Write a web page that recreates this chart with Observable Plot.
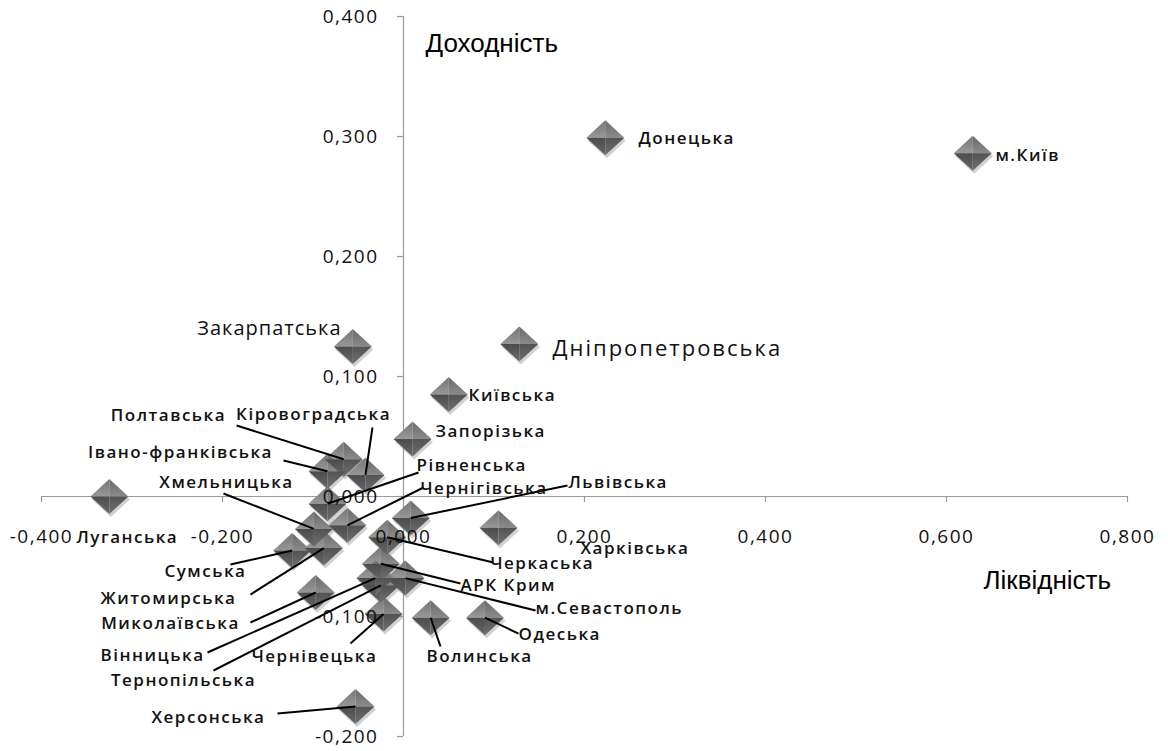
<!DOCTYPE html>
<html>
<head>
<meta charset="utf-8">
<script src="https://cdn.jsdelivr.net/npm/d3@7"></script>
<script src="https://cdn.jsdelivr.net/npm/@observablehq/plot@0.6"></script>
<style>
  html, body { margin: 0; padding: 0; background: #fff; }
  #chart svg { display: block; }
  g[aria-description="tick-labels"] text { letter-spacing: 1.5px; }
  g[aria-description="bold-labels"] text { letter-spacing: 1.5px; }
  g[aria-description="label-zak"] text { letter-spacing: 1px; }
  g[aria-description="label-dnip"] text { letter-spacing: 2px; }
</style>
</head>
<body>
<div id="chart"></div>
<script>
// ---- data ----
const regions = ["Донецька","м.Київ","Закарпатська","Дніпропетровська","Київська","Запорізька","Луганська",
  "Полтавська","Івано-франківська","Кіровоградська","Рівненська","Чернігівська","Хмельницька","Сумська",
  "Житомирська","Львівська","Харківська","Черкаська","АРК Крим","м.Севастополь","Вінницька","Тернопільська",
  "Миколаївська","Чернівецька","Волинська","Одеська","Херсонська"];
const liquidity = [0.223,0.629,-0.056,0.128,0.050,0.010,-0.325,
  -0.066,-0.084,-0.042,-0.084,-0.062,-0.099,-0.123,
  -0.088,0.008,0.105,-0.018,-0.025,0.002,-0.031,-0.025,
  -0.097,-0.022,0.030,0.090,-0.053];
const profitability = [0.299,0.286,0.125,0.127,0.085,0.048,0.000,
  0.031,0.021,0.018,-0.006,-0.024,-0.027,-0.045,
  -0.043,-0.018,-0.026,-0.034,-0.056,-0.068,-0.068,-0.074,
  -0.080,-0.098,-0.101,-0.101,-0.175];

const xTicks = [-0.4,-0.2,0,0.2,0.4,0.6,0.8];
const xTickLabels = ["-0,400","-0,200","0,000","0,200","0,400","0,600","0,800"];
const yTicks = [-0.2,-0.1,0,0.1,0.2,0.3,0.4];
const yTickLabels = ["-0,200","-0,100","0,000","0,100","0,200","0,300","0,400"];
const xTitle = "Ліквідність";
const yTitle = "Доходність";

// label placement (annotation layout, in data units): [textX, textY, anchor, leaderX, leaderY]
const labelLayout = [
  [0.2597,0.2983,"start",null,null],
  [0.6541,0.2842,"start",null,null],
  [-0.0685,0.1400,"end",null,null],
  [0.1646,0.1233,"start",null,null],
  [0.0718,0.0842,"start",null,null],
  [0.0354,0.0542,"start",null,null],
  [-0.3613,-0.0342,"start",null,null],
  [-0.2597,0.0675,"middle",-0.1845,0.0592],
  [-0.2464,0.0367,"middle",-0.1326,0.0300],
  [-0.0994,0.0683,"middle",-0.0343,0.0575],
  [0.0144,0.0258,"start",0.0166,0.0200],
  [0.0188,0.0067,"start",0.0221,0.0075],
  [-0.1956,0.0117,"middle",-0.1989,0.0025],
  [-0.2188,-0.0625,"middle",-0.1912,-0.0567],
  [-0.2597,-0.0850,"middle",-0.1691,-0.0817],
  [0.1823,0.0117,"start",0.1812,0.0092],
  [0.1956,-0.0433,"start",null,null],
  [0.0961,-0.0558,"start",0.0994,-0.0550],
  [0.0630,-0.0742,"start",0.0630,-0.0725],
  [0.1459,-0.0933,"start",0.1459,-0.0950],
  [-0.2773,-0.1325,"middle",-0.2166,-0.1300],
  [-0.2431,-0.1533,"middle",-0.2099,-0.1450],
  [-0.2575,-0.1058,"middle",-0.1691,-0.1050],
  [-0.0983,-0.1333,"middle",-0.0586,-0.1225],
  [0.0254,-0.1333,"start",0.0409,-0.1250],
  [0.1271,-0.1150,"start",0.1271,-0.1142],
  [-0.2155,-0.1842,"middle",-0.1392,-0.1808]
];
const regularLabels = ["Закарпатська","Дніпропетровська"];

const points = regions.map((name, i) => ({
  name, x: liquidity[i], y: profitability[i],
  tx: labelLayout[i][0], ty: labelLayout[i][1], anchor: labelLayout[i][2],
  lx: labelLayout[i][3], ly: labelLayout[i][4]
}));
const leaders = points.filter(d => d.lx !== null);
const boldStart = points.filter(d => !regularLabels.includes(d.name) && d.anchor === "start");
const boldMiddle = points.filter(d => !regularLabels.includes(d.name) && d.anchor === "middle");
const zak = points.filter(d => d.name === "Закарпатська");
const dnip = points.filter(d => d.name === "Дніпропетровська");

// ---- diamond facet symbols ----
const W = 19, H = 17.5;
const facet = pts => ({ draw(ctx) { ctx.moveTo(pts[0][0], pts[0][1]); for (let k = 1; k < pts.length; k++) ctx.lineTo(pts[k][0], pts[k][1]); ctx.closePath(); } });
const full = facet([[0,-H],[W,0],[0,H],[-W,0]]);
const tl = facet([[0,-H],[0,0],[-W,0]]);
const tr = facet([[0,-H],[W,0],[0,0]]);
const bl = facet([[-W,0],[0,0],[0,H]]);
const br = facet([[0,0],[W,0],[0,H]]);

const defsMark = () => {
  const ns = "http://www.w3.org/2000/svg";
  const defs = document.createElementNS(ns, "defs");
  defs.innerHTML = `
    <linearGradient id="gTL" x1="0" y1="0" x2="0" y2="1"><stop offset="0" stop-color="#747474"/><stop offset="1" stop-color="#989898"/></linearGradient>
    <linearGradient id="gTR" x1="0" y1="0" x2="0" y2="1"><stop offset="0" stop-color="#6a6a6a"/><stop offset="1" stop-color="#8a8a8a"/></linearGradient>
    <linearGradient id="gBL" x1="0" y1="0" x2="0" y2="1"><stop offset="0" stop-color="#4c4c4c"/><stop offset="1" stop-color="#686868"/></linearGradient>
    <linearGradient id="gBR" x1="0" y1="0" x2="0" y2="1"><stop offset="0" stop-color="#535353"/><stop offset="1" stop-color="#707070"/></linearGradient>`;
  return defs;
};

const lblFont = '"Open Sans", Lato, sans-serif';
const titleFont = '"Liberation Sans", Arial, sans-serif';

const chart = Plot.plot({
  width: 1168,
  height: 751,
  margin: 0,
  style: { background: "#fff", overflow: "visible" },
  x: { domain: [-0.4, 0.8], range: [41, 1127], axis: null },
  y: { domain: [-0.2, 0.4], range: [736, 16], axis: null },
  marks: [
    defsMark,
    // axes lines
    Plot.ruleY([0], { x1: -0.4, x2: 0.8, stroke: "#9a9a9a", strokeWidth: 1.2 }),
    Plot.ruleX([0], { y1: -0.2, y2: 0.4, stroke: "#9a9a9a", strokeWidth: 1.2 }),
    Plot.ruleX(xTicks, { x: d => d, y1: 0, y2: -0.005, stroke: "#9a9a9a", strokeWidth: 1.2 }),
    Plot.ruleY(yTicks, { y: d => d, x1: -0.0066, x2: 0, stroke: "#9a9a9a", strokeWidth: 1.2 }),
    // diamonds: shadow + 4 facets
    Plot.dot(points, { x: "x", y: "y", symbol: full, fill: "#9a9a9a", fillOpacity: 0.45, dx: 1.5, dy: 3 }),
    Plot.dot(points, { x: "x", y: "y", symbol: tl, fill: "url(#gTL)" }),
    Plot.dot(points, { x: "x", y: "y", symbol: tr, fill: "url(#gTR)" }),
    Plot.dot(points, { x: "x", y: "y", symbol: bl, fill: "url(#gBL)" }),
    Plot.dot(points, { x: "x", y: "y", symbol: br, fill: "url(#gBR)" }),
    // tick labels
    Plot.text(xTicks, { x: d => d, y: 0, dy: 40, text: (d, i) => xTickLabels[i], fontSize: 19, fontFamily: lblFont, fill: "#111", textAnchor: "middle", ariaDescription: "tick-labels" }),
    Plot.text(yTicks, { x: 0, y: d => d, dx: -25, text: (d, i) => yTickLabels[i], fontSize: 19, fontFamily: lblFont, fill: "#111", textAnchor: "end", ariaDescription: "tick-labels" }),
    // leader lines
    Plot.link(leaders, { x1: "lx", y1: "ly", x2: "x", y2: "y", stroke: "#000", strokeWidth: 2 }),
    // data labels
    Plot.text(boldStart, { x: "tx", y: "ty", text: "name", textAnchor: "start", fontSize: 17, fontWeight: 600, fontFamily: lblFont, fill: "#111", ariaDescription: "bold-labels" }),
    Plot.text(boldMiddle, { x: "tx", y: "ty", text: "name", textAnchor: "middle", fontSize: 17, fontWeight: 600, fontFamily: lblFont, fill: "#111", ariaDescription: "bold-labels" }),
    Plot.text(zak, { x: "tx", y: "ty", text: "name", textAnchor: "end", fontSize: 20, fontFamily: lblFont, fill: "#111", ariaDescription: "label-zak" }),
    Plot.text(dnip, { x: "tx", y: "ty", text: "name", textAnchor: "start", fontSize: 22, fontFamily: lblFont, fill: "#111", ariaDescription: "label-dnip" }),
    // axis titles
    Plot.text([yTitle], { frameAnchor: "top-left", lineAnchor: "middle", dx: 425, dy: 43, text: d => d, textAnchor: "start", fontSize: 26, fontFamily: titleFont, fill: "#000" }),
    Plot.text([xTitle], { frameAnchor: "top-left", lineAnchor: "middle", dx: 983, dy: 580, text: d => d, textAnchor: "start", fontSize: 26, fontFamily: titleFont, fill: "#000" })
  ]
});
document.getElementById("chart").appendChild(chart);
</script>
</body>
</html>
